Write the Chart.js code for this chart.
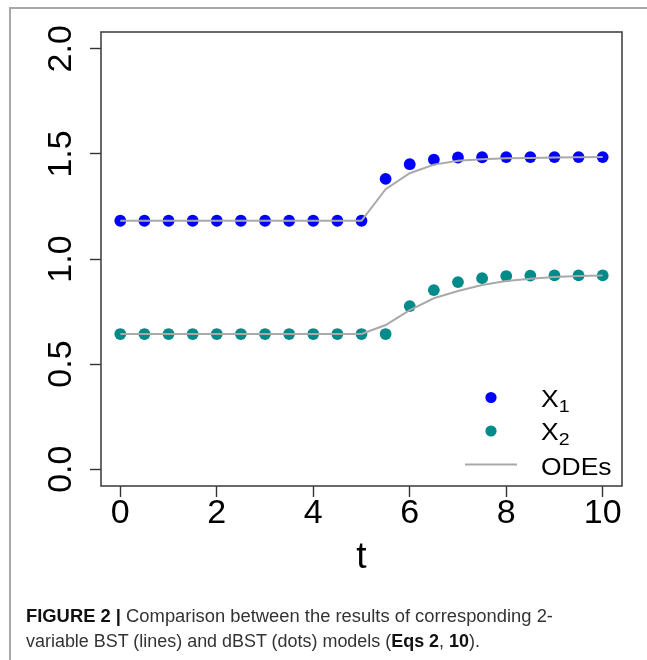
<!DOCTYPE html>
<html>
<head>
<meta charset="utf-8">
<script src="https://cdn.jsdelivr.net/npm/chart.js@4"></script>
<style>
  html, body { margin: 0; padding: 0; background: #fff; }
  #fig { position: relative; width: 647px; height: 660px; overflow: hidden; }
  #frame { position: absolute; left: 9px; top: 7px; right: -10px; bottom: -10px;
           border-top: 2px solid #a8a8a8; border-left: 2px solid #a8a8a8; }
  canvas { position: absolute; left: 0; top: 0; }
  .cap { position: absolute; left: 26px; font-family: "Liberation Sans", Arial, sans-serif;
         font-size: 17.5px; line-height: 27px; color: #333; white-space: nowrap;
         transform-origin: 0 50%; }
  .cap b { color: #111; }
</style>
</head>
<body>
<div id="fig">
  <div id="frame"></div>
  <canvas id="c" width="647" height="660"></canvas>
  <div class="cap" id="cap1" data-w="527" style="top:603px"><b>FIGURE 2 |</b> Comparison between the results of corresponding 2-</div>
  <div class="cap" id="cap2" data-w="454" style="top:628px">variable BST (lines) and dBST (dots) models (<b>Eqs 2</b>, <b>10</b>).</div>
</div>
<script>
// time grid
const times = [0, 0.5, 1, 1.5, 2, 2.5, 3, 3.5, 4, 4.5, 5, 5.5, 6, 6.5, 7, 7.5, 8, 8.5, 9, 9.5, 10];

// dBST (discrete) solution, dots
const x1Dots = [1.182, 1.182, 1.182, 1.182, 1.182, 1.182, 1.182, 1.182, 1.182, 1.182, 1.182,
                1.381, 1.451, 1.473, 1.483, 1.484, 1.485, 1.485, 1.485, 1.485, 1.485];
const x2Dots = [0.643, 0.643, 0.643, 0.643, 0.643, 0.643, 0.643, 0.643, 0.643, 0.643, 0.643,
                0.643, 0.776, 0.852, 0.890, 0.909, 0.919, 0.921, 0.922, 0.922, 0.922];

// BST (ODE) solution, lines
const x1Ode = [1.182, 1.182, 1.182, 1.182, 1.182, 1.182, 1.182, 1.182, 1.182, 1.182, 1.182,
               1.332, 1.408, 1.449, 1.467, 1.475, 1.479, 1.481, 1.483, 1.484, 1.485];
const x2Ode = [0.643, 0.643, 0.643, 0.643, 0.643, 0.643, 0.643, 0.643, 0.643, 0.643, 0.643,
               0.686, 0.757, 0.813, 0.848, 0.876, 0.895, 0.906, 0.914, 0.919, 0.921];

// axis ticks
const xTicks = [0, 2, 4, 6, 8, 10];
const yTicks = [0, 0.5, 1, 1.5, 2];

const legendLabels = ['X', 'X', 'ODEs'];
const legendSubs = ['1', '2', ''];

const BLUE = '#0000ff', TEAL = '#008b8b', GREY = '#a9a9a9', INK = '#000';
const FONT = '"Liberation Sans", Arial, Helvetica, sans-serif';

const pts = (xs, ys) => xs.map((x, i) => ({ x, y: ys[i] }));

// caption lines are set to a fixed measure
document.querySelectorAll('.cap').forEach(el => {
  const w = el.getBoundingClientRect().width;
  el.style.transform = 'scaleX(' + (Number(el.dataset.w) / w) + ')';
});

// frame around the plotting region
const boxPlugin = {
  id: 'box',
  afterDraw(chart) {
    const { ctx, chartArea: a } = chart;
    ctx.save();
    ctx.strokeStyle = '#444';
    ctx.lineWidth = 1.6;
    ctx.strokeRect(a.left, a.top, a.right - a.left, a.bottom - a.top);
    ctx.restore();
  }
};

// legend in the lower right corner of the plot
const legendPlugin = {
  id: 'cornerLegend',
  afterDatasetsDraw(chart) {
    const { ctx, chartArea: a } = chart;
    const ds = chart.data.datasets;
    const symX = a.right - 131;
    const txtX = a.right - 81;
    const rows = [a.bottom - 79, a.bottom - 46, a.bottom - 11];   // text baselines
    const syms = [a.bottom - 88.5, a.bottom - 55, a.bottom - 21.5]; // symbol centres
    ctx.save();
    // symbols
    ctx.fillStyle = ds[2].backgroundColor;
    ctx.beginPath(); ctx.arc(symX, syms[0], 5.6, 0, Math.PI * 2); ctx.fill();
    ctx.fillStyle = ds[3].backgroundColor;
    ctx.beginPath(); ctx.arc(symX, syms[1], 5.6, 0, Math.PI * 2); ctx.fill();
    ctx.strokeStyle = ds[0].borderColor;
    ctx.lineWidth = 2;
    ctx.beginPath(); ctx.moveTo(symX - 26, syms[2]); ctx.lineTo(symX + 26, syms[2]); ctx.stroke();
    // labels
    ctx.fillStyle = INK;
    ctx.textBaseline = 'alphabetic';
    ctx.textAlign = 'left';
    legendLabels.forEach((lab, i) => {
      ctx.save();
      ctx.translate(txtX, rows[i]);
      ctx.scale(1.15, 1);
      ctx.font = '23px ' + FONT;
      ctx.fillText(lab, 0, 0);
      if (legendSubs[i]) {
        const w = ctx.measureText(lab).width;
        ctx.font = '17px ' + FONT;
        ctx.fillText(legendSubs[i], w, 4.5);
      }
      ctx.restore();
    });
    ctx.restore();
  }
};

new Chart(document.getElementById('c'), {
  type: 'scatter',
  data: {
    datasets: [
      { label: 'ODEs X1', type: 'line', data: pts(times, x1Ode), borderColor: GREY, borderWidth: 2,
        pointRadius: 0, tension: 0, fill: false, order: 0 },
      { label: 'ODEs X2', type: 'line', data: pts(times, x2Ode), borderColor: GREY, borderWidth: 2,
        pointRadius: 0, tension: 0, fill: false, order: 0 },
      { label: 'X1', data: pts(times, x1Dots), backgroundColor: BLUE, borderWidth: 0,
        pointRadius: 5.9, order: 1 },
      { label: 'X2', data: pts(times, x2Dots), backgroundColor: TEAL, borderWidth: 0,
        pointRadius: 5.9, order: 1 }
    ]
  },
  options: {
    responsive: false,
    animation: false,
    events: [],
    layout: { padding: { left: 0, top: 32, right: 25, bottom: 84 } },
    plugins: { legend: { display: false }, tooltip: { enabled: false } },
    scales: {
      x: {
        type: 'linear', min: -0.4, max: 10.4,
        afterBuildTicks: s => { s.ticks = xTicks.map(v => ({ value: v })); },
        afterFit: s => { s.height = 90; },
        grid: { drawOnChartArea: false, drawTicks: true, tickLength: 11, tickColor: '#333', tickWidth: 1.4 },
        border: { display: false },
        ticks: { color: INK, padding: 0, maxRotation: 0, autoSkip: false,
                 font: { family: FONT, size: 34, lineHeight: 1 }, callback: v => String(v) },
        title: { display: true, text: 't', color: INK, padding: { top: 0, bottom: 0 },
                 font: { family: FONT, size: 37, lineHeight: 1 } }
      },
      y: {
        type: 'linear', min: -0.08, max: 2.08,
        afterBuildTicks: s => { s.ticks = yTicks.map(v => ({ value: v })); },
        afterFit: s => { s.width = 101; },
        grid: { drawOnChartArea: false, drawTicks: true, tickLength: 11, tickColor: '#333', tickWidth: 1.4 },
        border: { display: false },
        ticks: { color: INK, padding: 5, minRotation: 90, maxRotation: 90, crossAlign: 'center',
                 autoSkip: false, font: { family: FONT, size: 34, lineHeight: 1 },
                 callback: v => v.toFixed(1) }
      }
    }
  },
  plugins: [boxPlugin, legendPlugin]
});
</script>
</body>
</html>
